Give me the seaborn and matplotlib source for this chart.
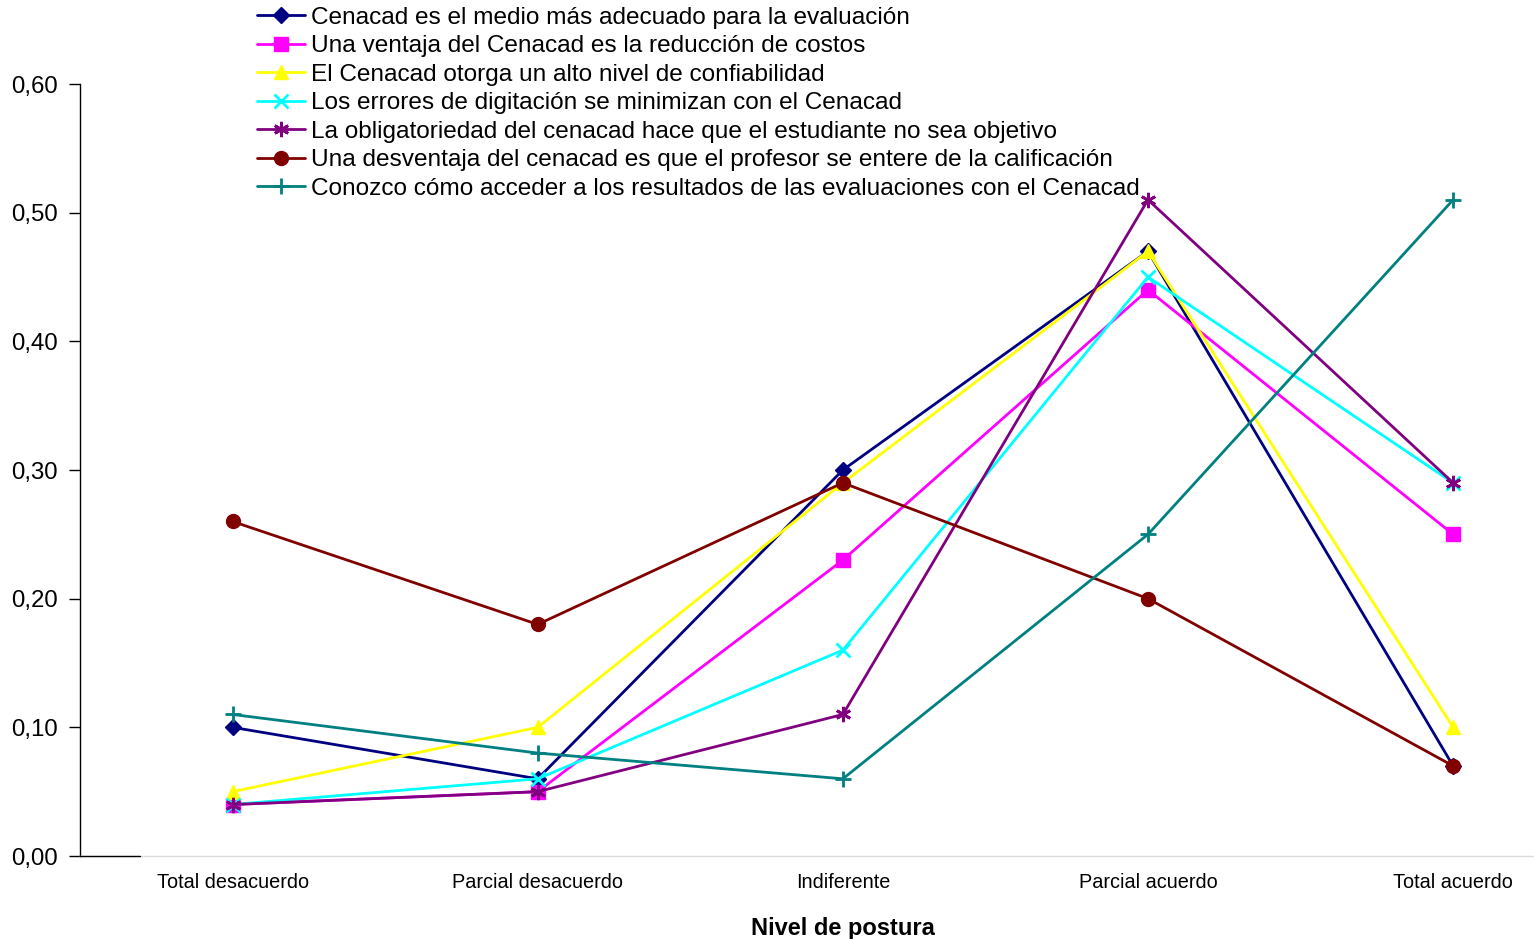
import matplotlib
matplotlib.use("Agg")
import matplotlib.pyplot as plt
import seaborn as sns
import pandas as pd
from matplotlib.ticker import FuncFormatter

categories = ["Total desacuerdo", "Parcial desacuerdo", "Indiferente", "Parcial acuerdo", "Total acuerdo"]
series_names = [
    "Cenacad es el medio más adecuado para la evaluación",
    "Una ventaja del Cenacad es la reducción de costos",
    "El Cenacad otorga un alto nivel de confiabilidad",
    "Los errores de digitación se minimizan con el Cenacad",
    "La obligatoriedad del cenacad hace que el estudiante no sea objetivo",
    "Una desventaja del cenacad es que el profesor se entere de la calificación",
    "Conozco cómo acceder a los resultados de las evaluaciones con el Cenacad",
]
s1 = [0.10, 0.06, 0.30, 0.47, 0.07]
s2 = [0.04, 0.05, 0.23, 0.44, 0.25]
s3 = [0.05, 0.10, 0.29, 0.47, 0.10]
s4 = [0.04, 0.06, 0.16, 0.45, 0.29]
s5 = [0.04, 0.05, 0.11, 0.51, 0.29]
s6 = [0.26, 0.18, 0.29, 0.20, 0.07]
s7 = [0.11, 0.08, 0.06, 0.25, 0.51]
values = [s1, s2, s3, s4, s5, s6, s7]

colors = ["#000080", "#FF00FF", "#FFFF00", "#00FFFF", "#800080", "#800000", "#008080"]
asterisk = (6, 2, 0)
markers = ["D", "s", "^", "x", asterisk, "o", "+"]
msizes = [8, 10, 10, 10, 11, 10, 11]

rows = []
for name, vals in zip(series_names, values):
    for i, (c, v) in enumerate(zip(categories, vals)):
        rows.append({"serie": name, "pos": i, "cat": c, "valor": v})
df = pd.DataFrame(rows)

sns.set_theme(style="white")
plt.rcParams["font.family"] = ["Liberation Sans", "DejaVu Sans"]
plt.rcParams["text.color"] = "black"
plt.rcParams["axes.labelcolor"] = "black"

fig = plt.figure(figsize=(15.34, 9.39), dpi=100)
ax = fig.add_axes([80 / 1534, 1 - 856 / 939, 1 - 80 / 1534, (856 - 84) / 939])

for k, name in enumerate(series_names):
    sub = df[df["serie"] == name]
    sns.lineplot(data=sub, x="pos", y="valor", ax=ax, color=colors[k],
                 marker=markers[k], markersize=msizes[k], linewidth=2.0,
                 markeredgecolor=colors[k], markeredgewidth=2 if k in (3, 4, 6) else 1,
                 label=name, zorder=3 + k)

ax.set_ylim(0, 0.6)
ax.set_xlim(-0.5, 4.265)
ax.set_yticks([0, 0.1, 0.2, 0.3, 0.4, 0.5, 0.6])
ax.yaxis.set_major_formatter(FuncFormatter(lambda v, p: f"{v:.2f}".replace(".", ",")))
ax.set_xticks(range(len(categories)))
ax.set_xticklabels(categories)
ax.tick_params(axis="x", length=0, pad=12, labelsize=14.3, colors="black")
ax.tick_params(axis="y", length=8, width=1, direction="out", left=True, pad=8,
               labelsize=17.3, colors="black")
for side in ("top", "right"):
    ax.spines[side].set_visible(False)
ax.spines["left"].set_color("black")
ax.spines["left"].set_linewidth(1)
ax.spines["bottom"].set_color("#dcdcdc")
ax.spines["bottom"].set_linewidth(1)
ax.axhline(0, xmin=0, xmax=60 / 1454, color="black", linewidth=1, clip_on=False, zorder=10)
ax.set_ylabel("")
ax.set_xlabel("Nivel de postura", fontsize=17, fontweight="bold", color="black")
ax.xaxis.set_label_coords((843 - 80) / 1454, (856 - 928) / 772)
ax.xaxis.label.set_va("center")
ax.grid(False)

leg = ax.legend(loc="upper left", bbox_to_anchor=(252 / 1534, 1.0 - 2 / 939), bbox_transform=fig.transFigure,
                frameon=False, fontsize=17.6, handlelength=1.95, handletextpad=0.25,
                labelspacing=0.26, borderaxespad=0.0, borderpad=0.2)
for t in leg.get_texts():
    t.set_color("black")

fig.savefig("out.png", dpi=100)
